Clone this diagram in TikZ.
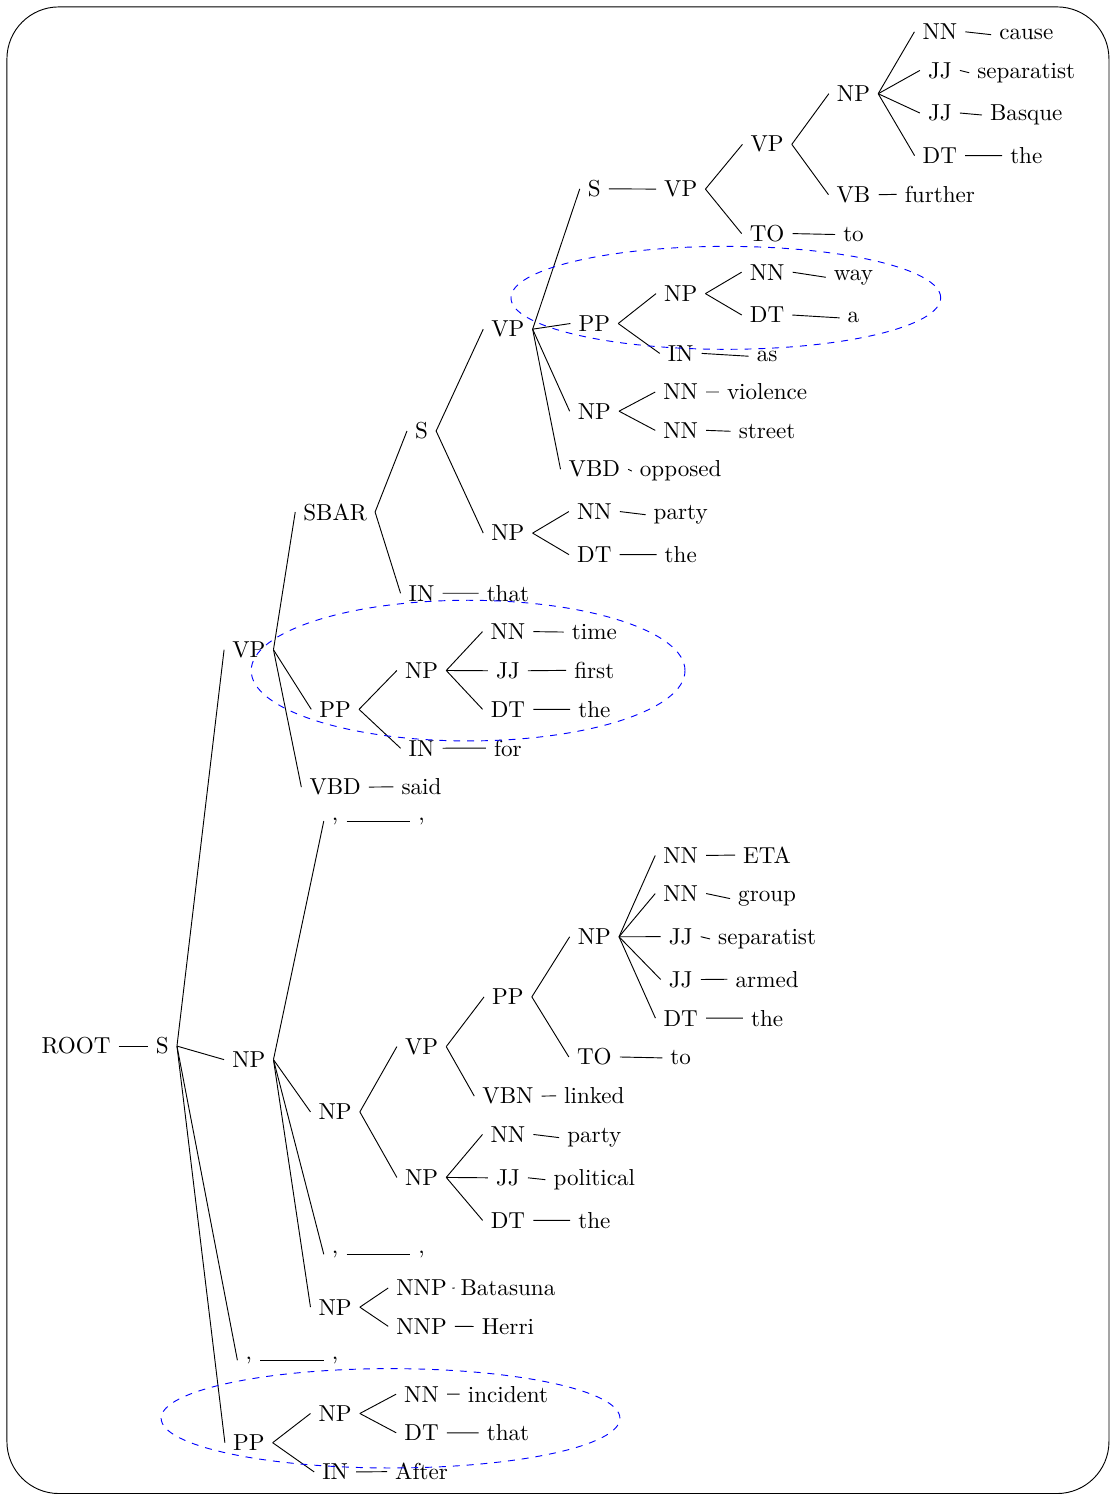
\documentclass[tikz,border=0pt]{standalone}
\usepackage{amsmath}
\usepackage{tikz}
\usepackage{tikz-qtree}
\usetikzlibrary{shapes.geometric, fit}

\begin{document}
\begin{tikzpicture}
\tikzset{anchor=base}
\tikzset{sibling distance=3pt}
\tikzset{level distance=37.4pt}
\tikzset{grow=right}
\tikzset{every tree node/.style={anchor=base}}
\tikzset{edge from parent/.style={draw, edge from parent path={(\tikzparentnode.east) -- (\tikzchildnode.west)}}}
\tikzset{focus/.style={draw=blue, dashed, ellipse, inner xsep=-1.5pt, inner ysep=-2.3pt, anchor=center}}
\useasboundingbox (-32.9pt,-190.5pt) rectangle (447.6pt,456.3pt);
\draw[rounded corners=22.5pt] (-29.9pt,-190.3pt) rectangle (447.2pt,453.3pt);
\Tree [.\node(root){ROOT};
  [.\node(s){S};
    [.\node(pp1){PP};
      [.\node(in1){IN}; \node(w1){After}; ]
      [.\node(np1){NP};
        [.\node(dt1){DT}; \node(w2){that}; ]
        [.\node(nn1){NN}; \node(w3){incident}; ] ] ]
    [.\node(cm1){,}; \node(w4){,}; ]
    [.\node(np2){NP};
      [.\node(np3){NP};
        [.\node(nnp1){NNP}; \node(w5){Herri}; ]
        [.\node(nnp2){NNP}; \node(w6){Batasuna}; ] ]
      [.\node(cm2){,}; \node(w7){,}; ]
      [.\node(np4){NP};
        [.\node(np5){NP};
          [.\node(dt2){DT}; \node(w8){the}; ]
          [.\node(jj1){JJ}; \node(w9){political}; ]
          [.\node(nn2){NN}; \node(w10){party}; ] ]
        [.\node(vp1){VP};
          [.\node(vbn1){VBN}; \node(w11){linked}; ]
          [.\node(pp2){PP};
            [.\node(to1){TO}; \node(w12){to}; ]
            [.\node(np6){NP};
              [.\node(dt3){DT}; \node(w13){the}; ]
              [.\node(jj2){JJ}; \node(w14){armed}; ]
              [.\node(jj3){JJ}; \node(w15){separatist}; ]
              [.\node(nn3){NN}; \node(w16){group}; ]
              [.\node(nn4){NN}; \node(w17){ETA}; ] ] ] ] ]
      [.\node(cm3){,}; \node(w18){,}; ] ]
    [.\node(vp2){VP};
      [.\node(vbd1){VBD}; \node(w19){said}; ]
      [.\node(pp3){PP};
        [.\node(in2){IN}; \node(w20){for}; ]
        [.\node(np7){NP};
          [.\node(dt4){DT}; \node(w21){the}; ]
          [.\node(jj4){JJ}; \node(w22){first}; ]
          [.\node(nn5){NN}; \node(w23){time}; ] ] ]
      [.\node(sbar){SBAR};
        [.\node(in3){IN}; \node(w24){that}; ]
        [.\node(s2){S};
          [.\node(np8){NP};
            [.\node(dt5){DT}; \node(w25){the}; ]
            [.\node(nn6){NN}; \node(w26){party}; ] ]
          [.\node(vp3){VP};
            [.\node(vbd2){VBD}; \node(w27){opposed}; ]
            [.\node(np9){NP};
              [.\node(nn7){NN}; \node(w28){street}; ]
              [.\node(nn8){NN}; \node(w29){violence}; ] ]
            [.\node(pp4){PP};
              [.\node(in4){IN}; \node(w30){as}; ]
              [.\node(np10){NP};
                [.\node(dt6){DT}; \node(w31){a}; ]
                [.\node(nn9){NN}; \node(w32){way}; ] ] ]
            [.\node(s3){S};
              [.\node(vp4){VP};
                [.\node(to2){TO}; \node(w33){to}; ]
                [.\node(vp5){VP};
                  [.\node(vb1){VB}; \node(w34){further}; ]
                  [.\node(np11){NP};
                    [.\node(dt7){DT}; \node(w35){the}; ]
                    [.\node(jj5){JJ}; \node(w36){Basque}; ]
                    [.\node(jj6){JJ}; \node(w37){separatist}; ]
                    [.\node(nn10){NN}; \node(w38){cause}; ] ] ] ] ] ] ] ] ] ] ]
\node[focus, fit=(pp4)(np10)(dt6)(nn9)(w31)(w32)] (ring1) {};
\node[focus, fit=(pp3)(np7)(dt4)(jj4)(nn5)(w21)(w22)(w23)] (ring2) {};
\node[focus, fit=(pp1)(np1)(dt1)(nn1)(w2)(w3)] (ring3) {};
\end{tikzpicture}
\end{document}
